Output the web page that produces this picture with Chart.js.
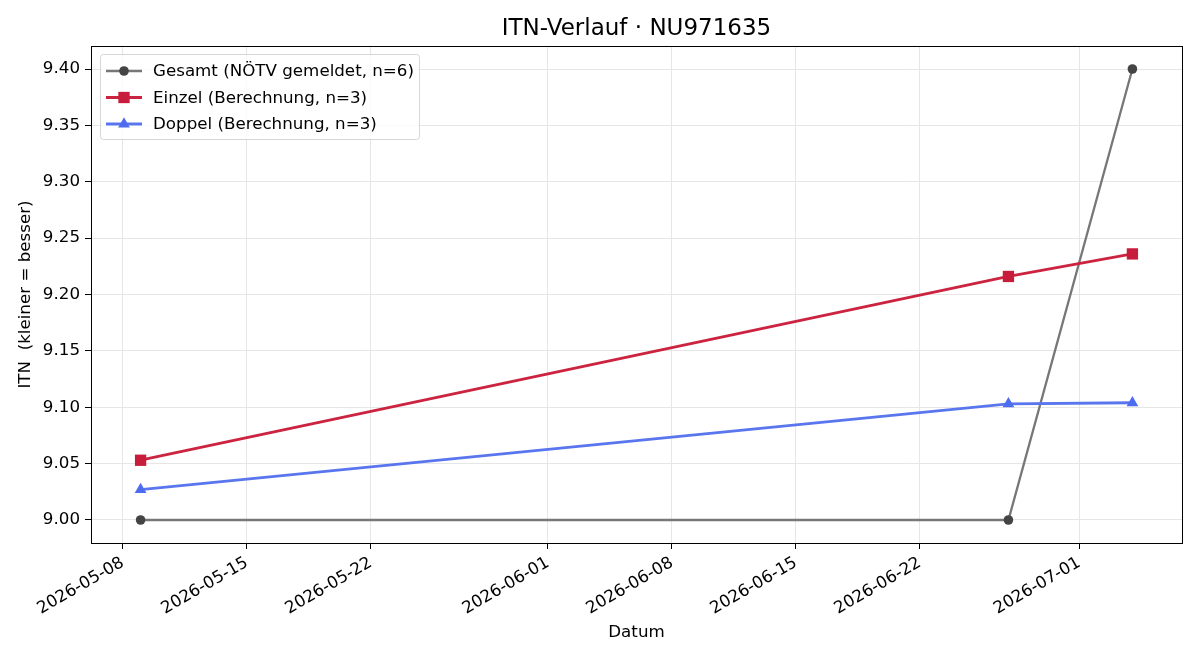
<!DOCTYPE html>
<html>
<head>
<meta charset="utf-8">
<script src="https://cdn.jsdelivr.net/npm/chart.js@4.4.1/dist/chart.umd.min.js"></script>
<style>
  body { margin: 0; background: #fff; }
  #wrap { width: 1200px; height: 660px; }
</style>
</head>
<body>
<div id="wrap"><canvas id="itnChart"></canvas></div>
<script>
// Data
const dates = ['2026-05-09', '2026-06-27', '2026-07-04'];
const gesamt = [9.00, 9.00, 9.40];
const einzel = [9.053, 9.216, 9.236];
const doppel = [9.027, 9.103, 9.104];
const xTickLabels = ['2026-05-08', '2026-05-15', '2026-05-22', '2026-06-01', '2026-06-08', '2026-06-15', '2026-06-22', '2026-07-01'];
const yTicks = [9.00, 9.05, 9.10, 9.15, 9.20, 9.25, 9.30, 9.35, 9.40];
const chartTitle = 'ITN-Verlauf · NU971635';

const FONT = 'DejaVu Sans';
const FS = 16.7;
const DAY = 86400000;
const dayOf = s => new Date(s + 'T00:00:00Z').getTime() / DAY;
const dayLabel = d => new Date(Math.round(d) * DAY).toISOString().slice(0, 10);
const pts = vals => dates.map((d, i) => ({ x: dayOf(d), y: vals[i] }));

const xFirst = dayOf(dates[0]);
const xLast = dayOf(dates[dates.length - 1]);
const xPad = (xLast - xFirst) * 0.05;

// Frame around plot area + title centred over the axes
const framePlugin = {
    id: 'frame',
    afterDatasetsDraw(chart) {
        const a = chart.chartArea;
        const ctx = chart.ctx;
        ctx.save();
        ctx.strokeStyle = '#000';
        ctx.lineWidth = 1;
        ctx.strokeRect(Math.round(a.left) + 0.5, Math.round(a.top) + 0.5, Math.round(a.right - a.left), Math.round(a.bottom - a.top));
        ctx.fillStyle = '#000';
        ctx.font = '23px "' + FONT + '"';
        ctx.textAlign = 'center';
        ctx.textBaseline = 'middle';
        ctx.fillText(chartTitle, (a.left + a.right) / 2, 29);
        ctx.restore();
    }
};

function drawMarker(ctx, style, x, y, r, color) {
    ctx.fillStyle = color;
    ctx.beginPath();
    if (style === 'circle') {
        ctx.arc(x, y, r, 0, Math.PI * 2);
    } else if (style === 'rect') {
        const s = r * Math.SQRT1_2;
        ctx.rect(x - s, y - s, 2 * s, 2 * s);
    } else if (style === 'triangle') {
        for (let k = 0; k < 3; k++) {
            const a = k * 2 * Math.PI / 3;
            const px = x + Math.sin(a) * r, py = y - Math.cos(a) * r;
            k === 0 ? ctx.moveTo(px, py) : ctx.lineTo(px, py);
        }
        ctx.closePath();
    }
    ctx.fill();
}

// Legend in upper-left of the plot, matplotlib style
const legendPlugin = {
    id: 'innerLegend',
    afterDraw(chart) {
        const ctx = chart.ctx;
        const a = chart.chartArea;
        const x0 = a.left + 9, y0 = a.top + 8, w = 319, h = 85;
        ctx.save();
        ctx.fillStyle = 'rgba(255,255,255,0.8)';
        ctx.strokeStyle = '#d6d6d6';
        ctx.lineWidth = 1;
        ctx.beginPath();
        ctx.roundRect(x0 + 0.5, y0 + 0.5, w, h, 3);
        ctx.fill();
        ctx.stroke();
        chart.data.datasets.forEach((ds, i) => {
            const y = y0 + 17 + i * 26.5;
            ctx.strokeStyle = ds.borderColor;
            ctx.lineWidth = ds.borderWidth;
            ctx.beginPath();
            ctx.moveTo(x0 + 6, y);
            ctx.lineTo(x0 + 42, y);
            ctx.stroke();
            drawMarker(ctx, ds.pointStyle, x0 + 24, y, ds.pointRadius, ds.pointBackgroundColor);
            ctx.fillStyle = '#000';
            ctx.font = FS + 'px "' + FONT + '"';
            ctx.textBaseline = 'middle';
            ctx.fillText(ds.label, x0 + 53, y + 1);
        });
        ctx.restore();
    }
};

const ctx = document.getElementById('itnChart').getContext('2d');
new Chart(ctx, {
    type: 'line',
    data: {
        datasets: [{
            label: 'Gesamt (NÖTV gemeldet, n=6)',
            data: pts(gesamt),
            borderColor: '#777777',
            borderWidth: 2.3,
            pointStyle: 'circle',
            pointRadius: 4.8,
            pointBackgroundColor: '#444444',
            pointBorderWidth: 0,
            order: 3
        }, {
            label: 'Einzel (Berechnung, n=3)',
            data: pts(einzel),
            borderColor: '#cc2340',
            borderWidth: 2.8,
            pointStyle: 'rect',
            pointRadius: 8,
            pointBackgroundColor: '#c81c3c',
            pointBorderWidth: 0,
            order: 2
        }, {
            label: 'Doppel (Berechnung, n=3)',
            data: pts(doppel),
            borderColor: '#5a76ee',
            borderWidth: 2.8,
            pointStyle: 'triangle',
            pointRadius: 6.8,
            pointBackgroundColor: '#4e6cf0',
            pointBorderWidth: 0,
            order: 1
        }]
    },
    options: {
        responsive: true,
        maintainAspectRatio: false,
        animation: false,
        layout: { padding: { left: 0, right: 18, top: 46, bottom: 0 } },
        plugins: {
            legend: { display: false },
            tooltip: { enabled: false },
            title: { display: false }
        },
        scales: {
            x: {
                type: 'linear',
                min: xFirst - xPad,
                max: xLast + xPad,
                afterBuildTicks: scale => {
                    scale.ticks = xTickLabels.map(s => ({ value: dayOf(s) }));
                },
                afterFit: scale => { scale.height = 117; },
                ticks: {
                    autoSkip: false,
                    minRotation: 30,
                    maxRotation: 30,
                    color: '#000',
                    padding: 4,
                    font: { family: FONT, size: FS },
                    callback: v => dayLabel(v)
                },
                grid: { color: '#e6e6e6', tickColor: '#000', tickLength: 6 },
                border: { color: '#000' },
                title: {
                    display: true,
                    text: 'Datum',
                    color: '#000',
                    font: { family: FONT, size: FS },
                    padding: { top: 4, bottom: 17 }
                }
            },
            y: {
                min: 8.9796,
                max: 9.4204,
                afterBuildTicks: scale => {
                    scale.ticks = yTicks.map(v => ({ value: v }));
                },
                afterFit: scale => { scale.width = 91; },
                ticks: {
                    color: '#000',
                    padding: 5,
                    font: { family: FONT, size: FS },
                    callback: v => v.toFixed(2)
                },
                grid: { color: '#e6e6e6', tickColor: '#000', tickLength: 6 },
                border: { color: '#000' },
                title: {
                    display: true,
                    text: 'ITN  (kleiner = besser)',
                    color: '#000',
                    font: { family: FONT, size: FS },
                    padding: { top: 16, bottom: 4 }
                }
            }
        }
    },
    plugins: [framePlugin, legendPlugin]
});
</script>
</body>
</html>
